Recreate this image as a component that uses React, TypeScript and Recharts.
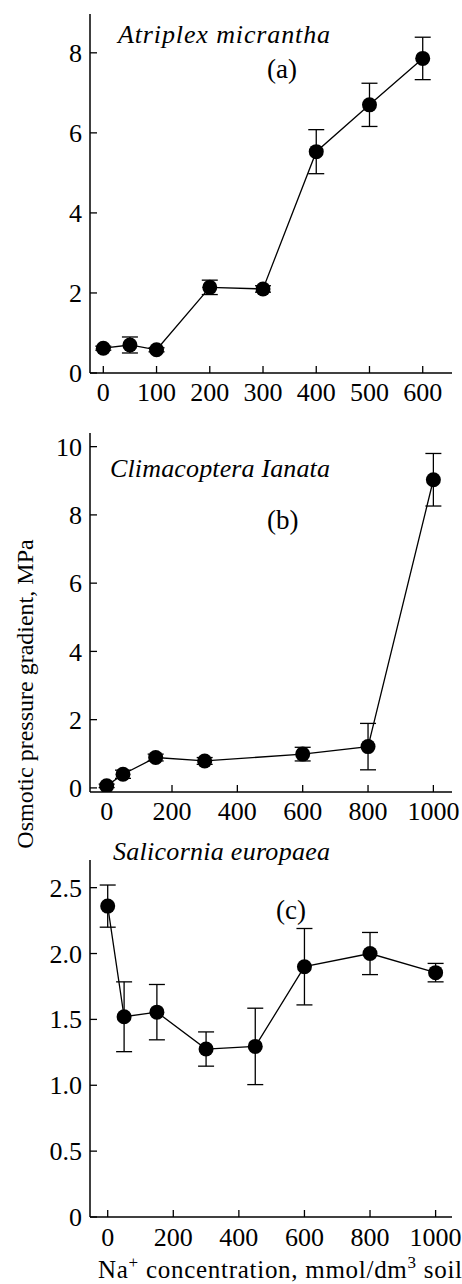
import React from "react";
import { LineChart, Line, XAxis, YAxis, ErrorBar } from "recharts";

const FONT = '"Liberation Serif", "Times New Roman", serif';
const INK = "#000";

// (a) Atriplex micrantha
const naA = [0, 50, 100, 200, 300, 400, 500, 600];
const osmA = [0.62, 0.7, 0.58, 2.14, 2.1, 5.53, 6.7, 7.86];
const errA = [0.05, 0.2, 0.05, 0.18, 0.08, 0.55, 0.54, 0.53];
const xTicksA = [0, 100, 200, 300, 400, 500, 600];
const yTicksA = [0, 2, 4, 6, 8];

// (b) Climacoptera lanata
const naB = [0, 50, 150, 300, 600, 800, 1000];
const osmB = [0.06, 0.4, 0.89, 0.79, 0.99, 1.21, 9.03];
const errB = [0.05, 0.12, 0.1, 0.1, 0.2, 0.68, 0.77];
const xTicksB = [0, 200, 400, 600, 800, 1000];
const yTicksB = [0, 2, 4, 6, 8, 10];

// (c) Salicornia europaea
const naC = [0, 50, 150, 300, 450, 600, 800, 1000];
const osmC = [2.36, 1.52, 1.555, 1.275, 1.295, 1.9, 2.0, 1.855];
const errC = [0.16, 0.265, 0.21, 0.13, 0.29, 0.29, 0.16, 0.07];
const xTicksC = [0, 200, 400, 600, 800, 1000];
const yTicksC = [0, 0.5, 1.0, 1.5, 2.0, 2.5];

const TICK_FONT = 26;

const toRows = (xs: number[], ys: number[], es: number[]) =>
  xs.map((na, i) => ({ na, osm: ys[i], err: es[i] }));

function makeXTick(offset: number) {
  return function XTick({ x, y, payload }: any) {
    return (
      <g>
        <line x1={x} y1={y} x2={x} y2={y - 7} stroke={INK} strokeWidth={1.3} />
        <text x={x} y={y + offset} textAnchor="middle" fontSize={TICK_FONT} fontFamily={FONT} fill={INK}>
          {payload.value}
        </text>
      </g>
    );
  };
}

function makeYTick(fmt: (v: number) => string) {
  return function YTick({ x, y, payload }: any) {
    return (
      <g>
        <line x1={x} y1={y} x2={x + 7} y2={y} stroke={INK} strokeWidth={1.3} />
        <text x={x - 8} y={y} dy="0.35em" textAnchor="end" fontSize={TICK_FONT} fontFamily={FONT} fill={INK}>
          {fmt(payload.value)}
        </text>
      </g>
    );
  };
}

const plain = (v: number) => String(v);
const oneDec = (v: number) => (v === 0 ? "0" : v.toFixed(1));

function Panel({
  data,
  xDomain,
  xTicks,
  yDomain,
  yTicks,
  yFmt,
  height,
  marginTop,
  marginBottom,
  labelOffset,
}: {
  data: { na: number; osm: number; err: number }[];
  xDomain: [number, number];
  xTicks: number[];
  yDomain: [number, number];
  yTicks: number[];
  yFmt: (v: number) => string;
  height: number;
  marginTop: number;
  marginBottom: number;
  labelOffset: number;
}) {
  return (
    <LineChart
      width={462}
      height={height}
      data={data}
      margin={{ top: marginTop, right: 10, bottom: marginBottom, left: 60 }}
    >
      <XAxis
        dataKey="na"
        type="number"
        domain={xDomain}
        ticks={xTicks}
        allowDataOverflow
        height={30}
        tickSize={0}
        tickMargin={0}
        tickLine={false}
        axisLine={{ stroke: INK, strokeWidth: 1.5 }}
        tick={makeXTick(labelOffset)}
        interval={0}
      />
      <YAxis
        type="number"
        domain={yDomain}
        ticks={yTicks}
        allowDataOverflow
        width={30}
        tickSize={0}
        tickMargin={0}
        tickLine={false}
        axisLine={{ stroke: INK, strokeWidth: 1.5 }}
        tick={makeYTick(yFmt)}
        interval={0}
      />
      <Line
        dataKey="osm"
        stroke={INK}
        strokeWidth={1.3}
        dot={{ r: 7.5, fill: INK, stroke: INK, strokeWidth: 0 }}
        activeDot={false}
        isAnimationActive={false}
      >
        <ErrorBar dataKey="err" width={8} stroke={INK} strokeWidth={1.3} direction="y" />
      </Line>
    </LineChart>
  );
}

export default function App() {
  return (
    <div
      style={{
        position: "absolute",
        left: 0,
        top: 0,
        width: 462,
        height: 1284,
        background: "#fff",
        overflow: "hidden",
      }}
    >
      <div style={{ position: "absolute", left: 0, top: 0 }}>
        <Panel
          data={toRows(naA, osmA, errA)}
          xDomain={[-25, 655]}
          xTicks={xTicksA}
          yDomain={[0, 8.97]}
          yTicks={yTicksA}
          yFmt={plain}
          height={410}
          marginTop={14}
          marginBottom={7}
          labelOffset={28}
        />
      </div>
      <div style={{ position: "absolute", left: 0, top: 400 }}>
        <Panel
          data={toRows(naB, osmB, errB)}
          xDomain={[-51, 1057]}
          xTicks={xTicksB}
          yDomain={[-0.12, 10.4]}
          yTicks={yTicksB}
          yFmt={plain}
          height={430}
          marginTop={33}
          marginBottom={8}
          labelOffset={28}
        />
      </div>
      <div style={{ position: "absolute", left: 0, top: 830 }}>
        <Panel
          data={toRows(naC, osmC, errC)}
          xDomain={[-54, 1050]}
          xTicks={xTicksC}
          yDomain={[0, 2.71]}
          yTicks={yTicksC}
          yFmt={oneDec}
          height={454}
          marginTop={30}
          marginBottom={37}
          labelOffset={29}
        />
      </div>
      <svg
        width={462}
        height={1284}
        style={{ position: "absolute", left: 0, top: 0, pointerEvents: "none" }}
        fontFamily={FONT}
        fill={INK}
      >
        <text x={118} y={43} fontSize={26} fontStyle="italic" textLength={212} lengthAdjust="spacing">
          Atriplex micrantha
        </text>
        <text x={267} y={78} fontSize={27}>(a)</text>
        <text x={110} y={477} fontSize={26} fontStyle="italic" textLength={220} lengthAdjust="spacing">
          Climacoptera Ianata
        </text>
        <text x={267} y={529} fontSize={27}>(b)</text>
        <text x={113} y={860} fontSize={26} fontStyle="italic" textLength={217} lengthAdjust="spacing">
          Salicornia europaea
        </text>
        <text x={276} y={919} fontSize={27}>(c)</text>
        <text transform="translate(33 694) rotate(-90)" textAnchor="middle" fontSize={24}>
          Osmotic pressure gradient, MPa
        </text>
        <text x={98} y={1278} fontSize={25} textLength={364} lengthAdjust="spacing">
          Na<tspan fontSize={17} dy={-10}>+</tspan>
          <tspan dy={10}> concentration, mmol/dm</tspan>
          <tspan fontSize={17} dy={-10}>3</tspan>
          <tspan dy={10}> soil</tspan>
        </text>
      </svg>
    </div>
  );
}
